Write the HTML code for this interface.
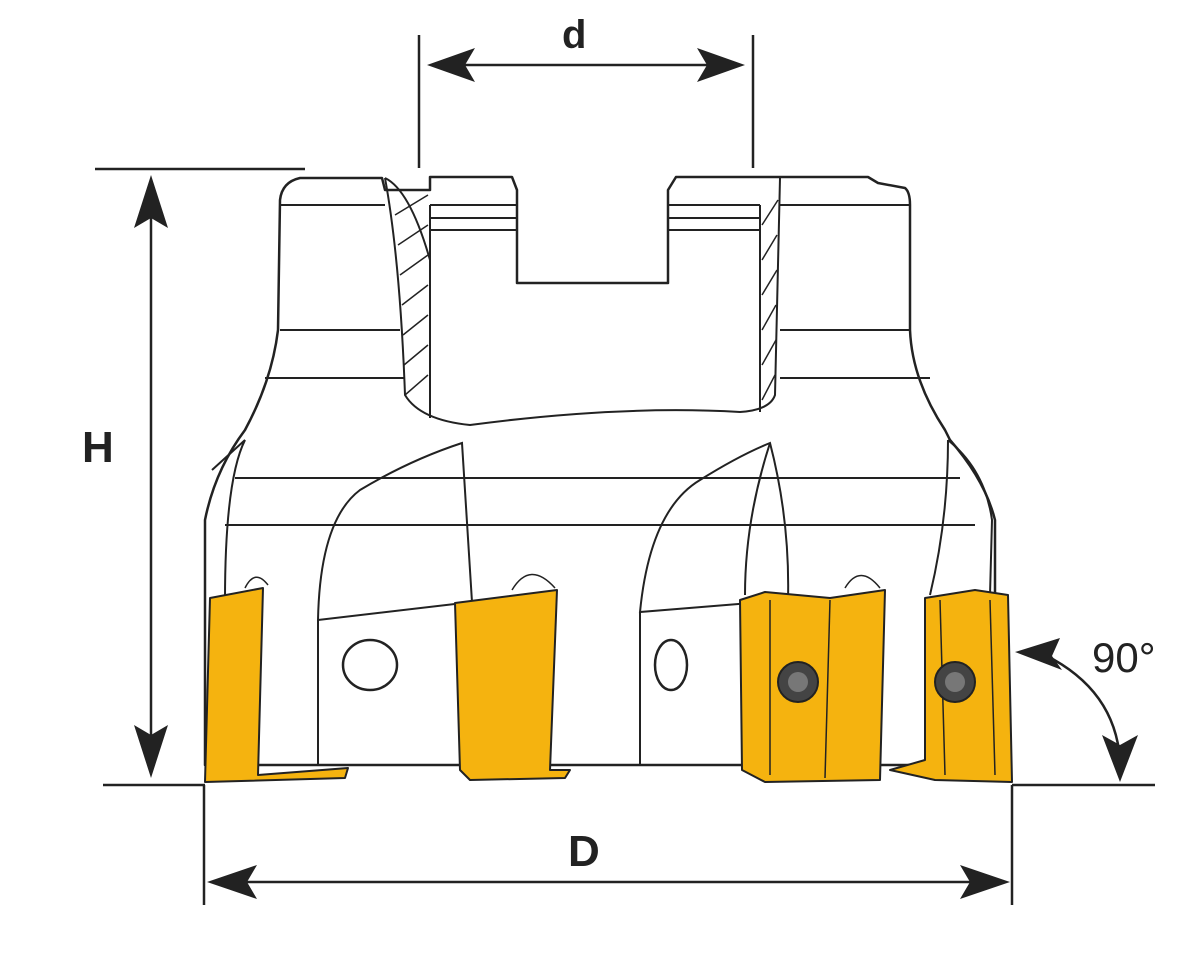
<!DOCTYPE html>
<html><head><meta charset="utf-8"><style>
html,body{margin:0;padding:0;background:#fff;}
svg{display:block;}
text{font-family:"Liberation Sans",sans-serif;font-weight:bold;fill:#222;}
</style></head><body>
<svg width="1198" height="968" viewBox="0 0 1198 968" xmlns="http://www.w3.org/2000/svg">
<g stroke="#222" stroke-width="2.5" fill="none">
<line x1="419" y1="35" x2="419" y2="168"/>
<line x1="753" y1="35" x2="753" y2="168"/>
<line x1="440" y1="65" x2="732" y2="65"/>
<line x1="95" y1="169" x2="305" y2="169"/>
<line x1="151" y1="200" x2="151" y2="755"/>
<line x1="103" y1="785" x2="205" y2="785"/>
<line x1="1012" y1="785" x2="1155" y2="785"/>
<line x1="204" y1="785" x2="204" y2="905"/>
<line x1="1012" y1="785" x2="1012" y2="905"/>
<line x1="230" y1="882" x2="990" y2="882"/>
<path d="M1045 655 Q1115 690 1120 760"/>
</g>
<g fill="#222">
<polygon points="427,65 475,48 465,65 475,82"/>
<polygon points="745,65 697,48 707,65 697,82"/>
<polygon points="151,175 134,228 151,218 168,228"/>
<polygon points="151,778 134,725 151,735 168,725"/>
<polygon points="207,882 257,865 247,882 257,899"/>
<polygon points="1010,882 960,865 970,882 960,899"/>
<polygon points="1015,652 1060,638 1052,656 1062,670"/>
<polygon points="1120,782 1102,735 1120,745 1138,735"/>
</g>
<text x="562" y="48" font-size="40">d</text>
<text x="82" y="462" font-size="44">H</text>
<text x="568" y="866" font-size="44">D</text>
<text x="1092" y="672" font-size="42" style="font-weight:normal">90°</text>

<g stroke="#222" stroke-width="2.5" fill="#fff" stroke-linejoin="round">
<path d="M300 178 L382 178 L385 190 L430 190 L430 177 L512 177 L517 190 L517 283 L668 283 L668 190 L676 177 L868 177 L878 183 L905 188 Q910 192 910 205 L910 330 Q912 380 945 430 L950 440 Q985 480 995 520 L995 765 L205 765 L205 520 Q215 470 245 430 Q272 380 278 330 L280 200 Q282 182 300 178 Z"/>
</g>
<g stroke="#222" stroke-width="2" fill="none">
<line x1="280" y1="205" x2="385" y2="205"/>
<line x1="780" y1="205" x2="910" y2="205"/>
<line x1="430" y1="205" x2="517" y2="205"/>
<line x1="668" y1="205" x2="760" y2="205"/>
<line x1="430" y1="218" x2="517" y2="218"/>
<line x1="668" y1="218" x2="760" y2="218"/>
<line x1="430" y1="230" x2="517" y2="230"/>
<line x1="668" y1="230" x2="760" y2="230"/>
<line x1="280" y1="330" x2="400" y2="330"/>
<line x1="780" y1="330" x2="910" y2="330"/>
<line x1="265" y1="378" x2="405" y2="378"/>
<line x1="780" y1="378" x2="930" y2="378"/>
<line x1="235" y1="478" x2="960" y2="478"/>
<line x1="225" y1="525" x2="975" y2="525"/>
<path d="M385 178 Q400 260 405 395 Q420 420 470 425 Q620 405 740 412 Q770 410 775 395 L780 178"/>
<path d="M430 205 L430 418"/>
<path d="M760 205 L760 412"/>
<path d="M385 178 Q410 190 430 260"/>
<path d="M318 620 Q320 520 360 490 Q410 460 462 443 L472 602 Z"/>
<path d="M640 612 Q650 510 700 480 Q740 455 770 443 Q790 520 788 600 Z"/>
<path d="M212 470 L245 440 Q225 480 225 600"/>
<path d="M948 440 Q985 470 992 520 L990 595"/>
<path d="M318 620 L318 765"/>
<path d="M640 612 L640 765"/>
<path d="M770 443 Q745 520 745 595"/>
<path d="M948 440 Q948 520 930 595"/>
</g>
<g stroke="#222" stroke-width="1.5">
<line x1="395" y1="215" x2="428" y2="195"/>
<line x1="398" y1="245" x2="428" y2="225"/>
<line x1="400" y1="275" x2="428" y2="255"/>
<line x1="402" y1="305" x2="428" y2="285"/>
<line x1="403" y1="335" x2="428" y2="315"/>
<line x1="404" y1="365" x2="428" y2="345"/>
<line x1="405" y1="395" x2="428" y2="375"/>
<line x1="762" y1="225" x2="778" y2="200"/>
<line x1="762" y1="260" x2="777" y2="235"/>
<line x1="762" y1="295" x2="777" y2="270"/>
<line x1="762" y1="330" x2="776" y2="305"/>
<line x1="762" y1="365" x2="776" y2="340"/>
<line x1="762" y1="400" x2="775" y2="375"/>
</g>
<ellipse cx="370" cy="665" rx="27" ry="25" fill="none" stroke="#222" stroke-width="2.5"/>
<ellipse cx="671" cy="665" rx="16" ry="25" fill="none" stroke="#222" stroke-width="2.5"/>

<g fill="#F5B30F" stroke="#222" stroke-width="2" stroke-linejoin="round">
<polygon points="210,598 263,588 258,775 348,768 345,778 205,782"/>
<polygon points="455,603 557,590 550,770 570,770 565,778 470,780 460,770"/>
<polygon points="740,600 765,592 830,598 885,590 880,780 765,782 742,770"/>
<polygon points="925,598 975,590 1008,595 1012,782 935,780 890,770 925,760"/>
</g>
<g fill="none" stroke="#222" stroke-width="1.5">
<line x1="770" y1="600" x2="770" y2="775"/>
<line x1="830" y1="600" x2="825" y2="778"/>
<line x1="940" y1="600" x2="945" y2="775"/>
<line x1="990" y1="600" x2="995" y2="775"/>
<path d="M245 588 Q255 568 268 585"/>
<path d="M512 590 Q530 560 555 588"/>
<path d="M845 588 Q860 563 880 588"/>
</g>
<circle cx="798" cy="682" r="20" fill="#444" stroke="#222" stroke-width="2"/>
<circle cx="798" cy="682" r="10" fill="#777"/>
<circle cx="955" cy="682" r="20" fill="#444" stroke="#222" stroke-width="2"/>
<circle cx="955" cy="682" r="10" fill="#777"/>
</svg>
</body></html>
